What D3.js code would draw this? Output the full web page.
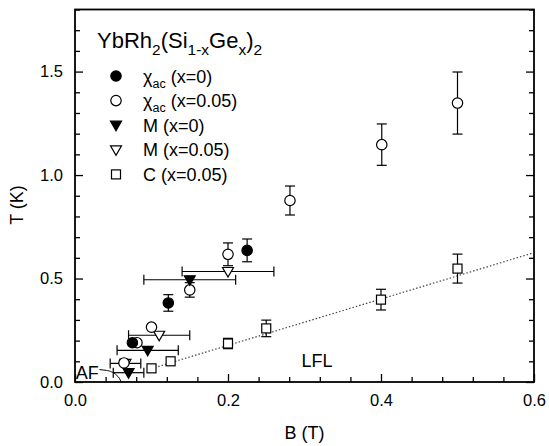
<!DOCTYPE html>
<html>
<head>
<meta charset="utf-8">
<script src="https://cdn.jsdelivr.net/npm/d3@7"></script>
<style>
  body { margin: 0; background: #fff; }
  svg { font-family: "Liberation Sans", Arial, Helvetica, sans-serif; }
</style>
</head>
<body>
<svg width="549" height="446"></svg>
<script>
'use strict';

// chi_ac, x = 0 (filled circles)
const chi0_B   = [0.075, 0.122, 0.225];
const chi0_T   = [0.19, 0.382, 0.636];
const chi0_err = [0, 0.04, 0.055];

// chi_ac, x = 0.05 (open circles)
const chi5_B   = [0.064, 0.081, 0.1, 0.15, 0.2, 0.281, 0.401, 0.5];
const chi5_T   = [0.092, 0.19, 0.265, 0.445, 0.617, 0.877, 1.147, 1.348];
const chi5_err = [0, 0, 0, 0.035, 0.055, 0.07, 0.1, 0.15];

// M, x = 0 (filled triangles), horizontal error
const m0_B    = [0.07, 0.095, 0.15];
const m0_T    = [0.045, 0.153, 0.494];
const m0_Berr = [0.02, 0.04, 0.06];

// M, x = 0.05 (open triangles), horizontal error
const m5_B    = [0.066, 0.11, 0.2];
const m5_T    = [0.09, 0.226, 0.534];
const m5_Berr = [0.02, 0.04, 0.06];

// C, x = 0.05 (open squares)
const c5_B   = [0.1, 0.125, 0.2, 0.25, 0.4, 0.5];
const c5_T   = [0.066, 0.1, 0.186, 0.259, 0.398, 0.548];
const c5_err = [0, 0, 0.025, 0.04, 0.05, 0.07];

// dotted LFL line and AF boundary
const fit_B = [0.1, 0.6];
const fit_T = [0.065, 0.625];
const af_B = [0.032, 0.041, 0.049, 0.054, 0.058, 0.06];
const af_T = [0.06, 0.056, 0.047, 0.034, 0.018, 0];

const xMajor = [0, 0.2, 0.4, 0.6];
const yMajor = [0, 0.5, 1.0, 1.5];

const svg = d3.select("svg");
const margin = {top: 9.5, right: 15, bottom: 64, left: 75};
const W = 549, H = 446;

const x = d3.scaleLinear().domain([0, 0.6]).range([margin.left, W - margin.right]);
const y = d3.scaleLinear().domain([0, 1.8]).range([H - margin.bottom, margin.top]);

const zip = (a, b, c) => a.map((v, i) => ({b: v, t: b[i], e: c ? c[i] : 0}));

// ---- axes ----
const xMinor = d3.range(0, 0.6001, 0.04).filter(v => !xMajor.some(m => Math.abs(m - v) < 1e-6));
const yMinor = d3.range(0, 1.8001, 0.1).filter(v => !yMajor.some(m => Math.abs(m - v) < 1e-6));

function styleAxis(g) {
  g.select(".domain").remove();
  g.selectAll("line").attr("stroke", "#000").attr("stroke-width", 1.3);
  g.selectAll("text").attr("fill", "#000").attr("font-size", "16.5px");
}

svg.append("g")
    .attr("transform", "translate(0," + y(0) + ")")
    .call(d3.axisBottom(x).tickValues(xMajor).tickFormat(d3.format(".1f"))
      .tickSizeInner(-8).tickSizeOuter(0).tickPadding(12))
    .call(styleAxis);
svg.append("g")
    .attr("transform", "translate(0," + y(0) + ")")
    .call(d3.axisBottom(x).tickValues(xMinor).tickFormat("").tickSizeInner(-5).tickSizeOuter(0))
    .call(styleAxis);

svg.append("g")
    .attr("transform", "translate(" + x(0) + ",0)")
    .call(d3.axisLeft(y).tickValues(yMajor).tickFormat(d3.format(".1f"))
      .tickSizeInner(-8).tickSizeOuter(0).tickPadding(12))
    .call(styleAxis);
svg.append("g")
    .attr("transform", "translate(" + x(0) + ",0)")
    .call(d3.axisLeft(y).tickValues(yMinor).tickFormat("").tickSizeInner(-5).tickSizeOuter(0))
    .call(styleAxis);

svg.append("g")
    .attr("transform", "translate(" + x(0.6) + ",0)")
    .call(d3.axisRight(y).tickValues(yMajor).tickFormat("").tickSizeInner(-8).tickSizeOuter(0))
    .call(styleAxis);
svg.append("g")
    .attr("transform", "translate(" + x(0.6) + ",0)")
    .call(d3.axisRight(y).tickValues(yMinor).tickFormat("").tickSizeInner(-5).tickSizeOuter(0))
    .call(styleAxis);

// frame
svg.append("rect")
    .attr("x", x(0)).attr("y", y(1.8))
    .attr("width", x(0.6) - x(0)).attr("height", y(0) - y(1.8))
    .attr("fill", "none").attr("stroke", "#000").attr("stroke-width", 1.8);

// axis titles
svg.append("text")
    .attr("x", (x(0) + x(0.6)) / 2).attr("y", 439)
    .attr("text-anchor", "middle").attr("font-size", "18px")
    .text("B (T)");
svg.append("text")
    .attr("transform", "translate(23,205) rotate(-90)")
    .attr("text-anchor", "middle").attr("font-size", "18px")
    .text("T (K)");

// ---- lines ----
const plot = svg.append("g");

plot.append("path")
    .datum(zip(fit_B, fit_T))
    .attr("fill", "none").attr("stroke", "#444").attr("stroke-width", 1.2)
    .attr("stroke-dasharray", "1.5,2")
    .attr("d", d3.line().x(d => x(d.b)).y(d => y(d.t)));

plot.append("path")
    .datum(zip(af_B, af_T))
    .attr("fill", "none").attr("stroke", "#000").attr("stroke-width", 1)
    .attr("d", d3.line().x(d => x(d.b)).y(d => y(d.t)).curve(d3.curveMonotoneY));

plot.append("text").attr("x", x(0.001)).attr("y", y(0) - 3)
    .attr("font-size", "18px").text("AF");
plot.append("text").attr("x", x(0.296)).attr("y", y(0.074))
    .attr("font-size", "18px").text("LFL");

// ---- error bars ----
const cap = 5;
function vErr(data) {
  const g = plot.append("g").attr("stroke", "#000").attr("stroke-width", 1.2);
  data.filter(d => d.e > 0).forEach(d => {
    const cx = x(d.b), y1 = y(d.t - d.e), y2 = y(d.t + d.e);
    g.append("line").attr("x1", cx).attr("x2", cx).attr("y1", y1).attr("y2", y2);
    g.append("line").attr("x1", cx - cap).attr("x2", cx + cap).attr("y1", y1).attr("y2", y1);
    g.append("line").attr("x1", cx - cap).attr("x2", cx + cap).attr("y1", y2).attr("y2", y2);
  });
}
function hErr(data) {
  const g = plot.append("g").attr("stroke", "#000").attr("stroke-width", 1.2);
  data.filter(d => d.e > 0).forEach(d => {
    const cy = y(d.t), x1 = x(d.b - d.e), x2 = x(d.b + d.e);
    g.append("line").attr("x1", x1).attr("x2", x2).attr("y1", cy).attr("y2", cy);
    g.append("line").attr("x1", x1).attr("x2", x1).attr("y1", cy - cap).attr("y2", cy + cap);
    g.append("line").attr("x1", x2).attr("x2", x2).attr("y1", cy - cap).attr("y2", cy + cap);
  });
}

const chi0 = zip(chi0_B, chi0_T, chi0_err);
const chi5 = zip(chi5_B, chi5_T, chi5_err);
const m0 = zip(m0_B, m0_T, m0_Berr);
const m5 = zip(m5_B, m5_T, m5_Berr);
const c5 = zip(c5_B, c5_T, c5_err);

vErr(c5); vErr(chi5); vErr(chi0);
hErr(m0); hErr(m5);

// ---- markers ----
const tri = "M-5.5,-4L5.5,-4L0,5.5Z";
function marker(g, kind, filled) {
  const fill = filled ? "#000" : "#fff";
  let m;
  if (kind === "circle") m = g.append("circle").attr("r", 5.2);
  else if (kind === "tri") m = g.append("path").attr("d", tri);
  else m = g.append("rect").attr("x", -4.5).attr("y", -4.5).attr("width", 9).attr("height", 9);
  m.attr("fill", fill).attr("stroke", "#000").attr("stroke-width", 1.2);
}
function points(data, kind, filled) {
  data.forEach(d => {
    const g = plot.append("g").attr("transform", "translate(" + x(d.b) + "," + y(d.t) + ")");
    marker(g, kind, filled);
  });
}
points(c5, "rect", false);
points(m5, "tri", false);
points(chi5, "circle", false);
points(chi0, "circle", true);
points(m0, "tri", true);

// ---- legend ----
const leg = svg.append("g");
const title = leg.append("text").attr("x", 97).attr("y", 48).attr("font-size", "22px");
[["YbRh", 0], ["2", 1], ["(Si", 0], ["1-x", 1], ["Ge", 0], ["x", 1], [")", 0], ["2", 1]]
  .forEach(([s, sub], i, arr) => {
    const prevSub = i > 0 ? arr[i - 1][1] : 0;
    const dy = sub && !prevSub ? 7 : (!sub && prevSub ? -7 : 0);
    title.append("tspan").attr("dy", dy).attr("font-size", sub ? "15.5px" : "22px").text(s);
  });

const legItems = [
  {kind: "circle", filled: true,  name: "χ", sub: "ac", rest: " (x=0)"},
  {kind: "circle", filled: false, name: "χ", sub: "ac", rest: " (x=0.05)"},
  {kind: "tri",    filled: true,  name: "M", sub: "",   rest: " (x=0)"},
  {kind: "tri",    filled: false, name: "M", sub: "",   rest: " (x=0.05)"},
  {kind: "rect",   filled: false, name: "C", sub: "",   rest: " (x=0.05)"}
];
legItems.forEach((it, i) => {
  const ry = 76 + i * 24.6;
  const g = leg.append("g").attr("transform", "translate(116," + ry + ")");
  marker(g, it.kind, it.filled);
  const t = leg.append("text").attr("x", 143).attr("y", ry + 6.5).attr("font-size", "18px");
  t.append("tspan").text(it.name);
  if (it.sub) {
    t.append("tspan").attr("dy", 5).attr("font-size", "12.5px").text(it.sub);
    t.append("tspan").attr("dy", -5).text(it.rest);
  } else {
    t.append("tspan").text(it.rest);
  }
});
</script>
</body>
</html>
